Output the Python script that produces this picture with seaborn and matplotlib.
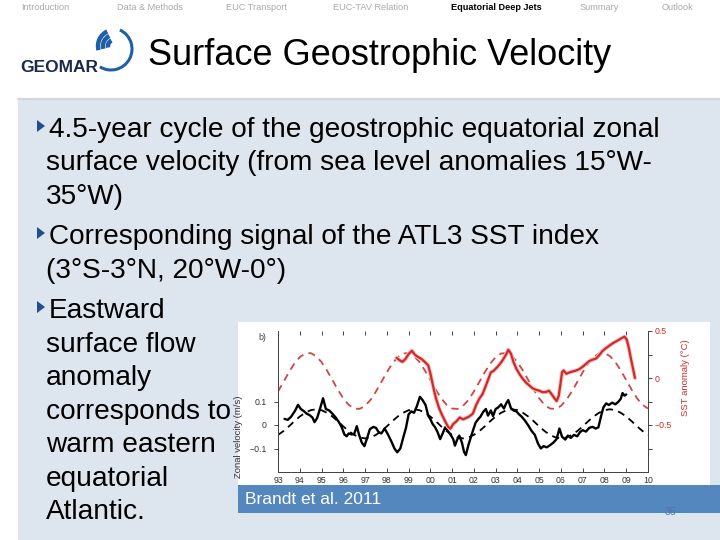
import matplotlib
matplotlib.use("Agg")
import matplotlib.pyplot as plt
from matplotlib.patches import Rectangle, Arc, Polygon
import numpy as np
import seaborn as sns

# --- data (Brandt et al. 2011) ---
fit_years = np.arange(1993.0, 2010.01, 0.25)

# fitted 4.5-year cycle, SST anomaly (degC), red dashed
sst_fit = [-0.144, -0.042, 0.061, 0.153, 0.222, 0.261, 0.265, 0.233, 0.169, 0.080,
           -0.022, -0.125, -0.217, -0.286, -0.325, -0.329, -0.297, -0.233,
           -0.144, -0.042, 0.061, 0.153, 0.222, 0.261, 0.265, 0.233, 0.169, 0.080,
           -0.022, -0.125, -0.217, -0.286, -0.325, -0.329, -0.297, -0.233,
           -0.144, -0.042, 0.061, 0.153, 0.222, 0.261, 0.265, 0.233, 0.169, 0.080,
           -0.022, -0.125, -0.217, -0.286, -0.325, -0.329, -0.297, -0.233,
           -0.144, -0.042, 0.061, 0.153, 0.222, 0.261, 0.265, 0.233, 0.169, 0.080,
           -0.022, -0.125, -0.217, -0.286, -0.325]

# fitted 4.5-year cycle, zonal velocity (m/s), black dashed
vel_fit = [-0.042, -0.026, -0.006, 0.016, 0.036, 0.052, 0.063, 0.067, 0.063, 0.052,
           0.036, 0.016, -0.006, -0.026, -0.042, -0.053, -0.057, -0.053,
           -0.042, -0.026, -0.006, 0.016, 0.036, 0.052, 0.063, 0.067, 0.063, 0.052,
           0.036, 0.016, -0.006, -0.026, -0.042, -0.053, -0.057, -0.053,
           -0.042, -0.026, -0.006, 0.016, 0.036, 0.052, 0.063, 0.067, 0.063, 0.052,
           0.036, 0.016, -0.006, -0.026, -0.042, -0.053, -0.057, -0.053,
           -0.042, -0.026, -0.006, 0.016, 0.036, 0.052, 0.063, 0.067, 0.063, 0.052,
           0.036, 0.016, -0.006, -0.026, -0.042]

# observed zonal surface velocity (black solid)
vel_years = [1993.30, 1993.45, 1993.60, 1993.78, 1993.92, 1994.05, 1994.20, 1994.32, 1994.45, 1994.58,
             1994.68, 1994.80, 1994.95, 1995.07, 1995.20, 1995.35, 1995.50, 1995.65, 1995.80, 1995.92,
             1996.05, 1996.15, 1996.25, 1996.38, 1996.50, 1996.62, 1996.72, 1996.85, 1996.97, 1997.08,
             1997.22, 1997.38, 1997.50, 1997.62, 1997.75, 1997.90, 1998.05, 1998.20, 1998.35, 1998.48,
             1998.62, 1998.75, 1998.88, 1999.00, 1999.12, 1999.25, 1999.38, 1999.52, 1999.65, 1999.78,
             1999.90, 2000.00, 2000.10, 2000.22, 2000.33, 2000.45, 2000.57, 2000.68, 2000.80, 2000.92,
             2001.05, 2001.13, 2001.22, 2001.33, 2001.45, 2001.55, 2001.63, 2001.75, 2001.85, 2001.97,
             2002.08, 2002.20, 2002.30, 2002.42, 2002.55, 2002.65, 2002.78, 2002.88, 2003.00, 2003.12,
             2003.25, 2003.38, 2003.50, 2003.58, 2003.70, 2003.82, 2003.95, 2004.08, 2004.20, 2004.35,
             2004.50, 2004.65, 2004.80, 2004.95, 2005.08, 2005.20, 2005.35, 2005.50, 2005.65, 2005.80,
             2005.93, 2006.05, 2006.20, 2006.32, 2006.45, 2006.60, 2006.75, 2006.88, 2007.00, 2007.15,
             2007.30, 2007.45, 2007.60, 2007.72, 2007.85, 2007.95, 2008.08, 2008.20, 2008.35, 2008.50,
             2008.65, 2008.75, 2008.83, 2008.92, 2009.00]
vel_obs = [0.026, 0.022, 0.035, 0.060, 0.086, 0.068, 0.058, 0.048, 0.042, 0.032,
           0.012, 0.030, 0.075, 0.114, 0.068, 0.062, 0.048, 0.032, 0.012, -0.008,
           -0.040, -0.048, -0.036, -0.040, -0.038, -0.005, -0.040, -0.075, -0.090, -0.060,
           -0.018, -0.008, -0.012, -0.030, -0.036, -0.015, -0.040, -0.068, -0.100, -0.116,
           -0.100, -0.055, -0.012, 0.045, 0.058, 0.052, 0.080, 0.120, 0.105, 0.085,
           0.040, 0.025, 0.005, -0.010, -0.030, -0.060, -0.035, -0.010, -0.025, -0.040,
           -0.060, -0.088, -0.065, -0.045, -0.075, -0.115, -0.128, -0.085, -0.055, -0.020,
           0.010, 0.025, 0.035, 0.055, 0.068, 0.040, 0.062, 0.038, 0.068, 0.075,
           0.088, 0.070, 0.095, 0.106, 0.072, 0.062, 0.058, 0.045, 0.035, 0.018,
           -0.002, -0.025, -0.042, -0.080, -0.100, -0.090, -0.095, -0.086, -0.075, -0.060,
           -0.015, -0.050, -0.062, -0.045, -0.055, -0.042, -0.048, -0.030, -0.022, -0.028,
           -0.012, -0.008, -0.015, -0.010, 0.040, 0.075, 0.092, 0.085, 0.095, 0.088,
           0.100, 0.112, 0.136, 0.125, 0.130]

# observed ATL3 SST anomaly (red solid)
sst_years = [1998.45, 1998.58, 1998.72, 1998.85, 1999.00, 1999.15, 1999.28, 1999.42, 1999.58, 1999.75,
             1999.90, 2000.00, 2000.12, 2000.25, 2000.40, 2000.55, 2000.70, 2000.82, 2000.92, 2001.05,
             2001.20, 2001.35, 2001.50, 2001.65, 2001.78, 2001.95, 2002.10, 2002.25, 2002.40, 2002.52,
             2002.65, 2002.78, 2002.90, 2003.05, 2003.20, 2003.35, 2003.48, 2003.58, 2003.70, 2003.82,
             2003.95, 2004.10, 2004.25, 2004.40, 2004.55, 2004.70, 2004.85, 2005.00, 2005.15, 2005.30,
             2005.45, 2005.58, 2005.70, 2005.80, 2005.90, 2005.98, 2006.05, 2006.12, 2006.25, 2006.40,
             2006.55, 2006.70, 2006.85, 2007.00, 2007.15, 2007.30, 2007.45, 2007.60, 2007.75, 2007.90,
             2008.05, 2008.20, 2008.35, 2008.50, 2008.65, 2008.80, 2008.92, 2009.02, 2009.12, 2009.22,
             2009.32, 2009.40]
sst_obs = [0.215, 0.190, 0.172, 0.200, 0.255, 0.290, 0.250, 0.225, 0.205, 0.170,
           0.135, 0.050, -0.080, -0.210, -0.320, -0.400, -0.470, -0.520, -0.540, -0.490,
           -0.460, -0.420, -0.440, -0.425, -0.410, -0.380, -0.290, -0.220, -0.170, -0.100,
           -0.020, 0.060, 0.075, 0.110, 0.150, 0.200, 0.250, 0.300, 0.260, 0.170,
           0.100, 0.040, -0.010, -0.050, -0.080, -0.110, -0.125, -0.135, -0.150, -0.150,
           -0.135, -0.175, -0.215, -0.245, -0.190, -0.060, 0.060, 0.080, 0.045, 0.060,
           0.070, 0.080, 0.095, 0.120, 0.150, 0.180, 0.195, 0.205, 0.240, 0.285,
           0.315, 0.340, 0.365, 0.385, 0.405, 0.425, 0.440, 0.410, 0.320, 0.200,
           0.090, 0.000]

year_ticks = list(range(1993, 2011))
year_labels = [f"{y % 100:02d}" for y in year_ticks]

nav_items = ["Introduction", "Data & Methods", "EUC Transport", "EUC-TAV Relation",
             "Equatorial Deep Jets", "Summary", "Outlook"]
nav_x = [45, 150, 257, 371, 496, 599, 677]

bullet_lines = [
    (49, 137, "4.5-year cycle of the geostrophic equatorial zonal", True),
    (46, 170, "surface velocity (from sea level anomalies 15°W-", False),
    (46, 204, "35°W)", False),
    (49, 244, "Corresponding signal of the ATL3 SST index", True),
    (46, 278, "(3°S-3°N, 20°W-0°)", False),
    (49, 318, "Eastward", True),
    (46, 352, "surface flow", False),
    (46, 385, "anomaly", False),
    (46, 419, "corresponds to", False),
    (46, 452, "warm eastern", False),
    (46, 486, "equatorial", False),
    (46, 519, "Atlantic.", False),
]

RED = "#cf2a2a"
RED_DASH = "#d04545"
NAVY = "#1f4f8f"

sns.set_style("ticks")
plt.rcParams['font.family'] = ['Liberation Sans', 'DejaVu Sans']

fig = plt.figure(figsize=(7.2, 5.4), dpi=100)

# slide background drawn in pixel coordinates
bg = fig.add_axes([0, 0, 1, 1])
bg.set_xlim(0, 720)
bg.set_ylim(540, 0)
bg.axis('off')

bg.add_patch(Rectangle((18, 98), 702, 442, fc="#dde5ee", ec="none"))
bg.plot([18, 720], [98.5, 98.5], color="#cdd6e1", lw=1.5)
bg.add_patch(Rectangle((238, 322), 472, 163, fc="white", ec="none"))
bg.add_patch(Rectangle((238, 485), 482, 28, fc="#5587bf", ec="none"))

# nav bar
for name, x in zip(nav_items, nav_x):
    active = name == "Equatorial Deep Jets"
    bg.text(x, 8, name, ha='center', va='center', fontsize=6.6,
            color="black" if active else "#a9a9a9",
            fontweight='bold' if active else 'normal')

# GEOMAR logo
bg.text(20, 72, "GEOMAR", fontsize=12.5, fontweight='bold', color="#1b2a4a",
        ha='left', va='baseline')
bg.add_patch(Arc((111, 49), 42, 42, theta1=-65, theta2=122, color="#1f5fa8", lw=2.2))
for r in [6, 11, 16]:
    bg.add_patch(Arc((114, 46), 2 * r, 2 * r, theta1=165, theta2=245,
                     color="#1f5fa8", lw=3.2))

bg.text(148, 65, "Surface Geostrophic Velocity", fontsize=26, color="black",
        ha='left', va='baseline')

for x, y, txt, bullet in bullet_lines:
    bg.text(x, y, txt, fontsize=20.2, color="black", ha='left', va='baseline')
    if bullet:
        cy = y - 11
        bg.add_patch(Polygon([(37, cy - 6), (37, cy + 6), (45, cy)], closed=True,
                             fc=NAVY, ec="none"))

bg.text(245, 500, "Brandt et al. 2011", fontsize=12.5, color="white",
        ha='left', va='center')
bg.text(670, 512, "36", fontsize=7.5, color="#4f73a6", ha='center', va='center')

# chart
ax = fig.add_axes([278 / 720, 1 - 472 / 540, 370 / 720, 141 / 540])
ax.set_facecolor('none')
ax2 = ax.twinx()

sns.lineplot(x=fit_years, y=vel_fit, ax=ax, color="black", lw=1.3,
             linestyle=(0, (4, 3)), estimator=None)
sns.lineplot(x=vel_years, y=vel_obs, ax=ax, color="black", lw=1.7, estimator=None)

sns.lineplot(x=fit_years, y=sst_fit, ax=ax2, color=RED_DASH, lw=1.3,
             linestyle=(0, (4, 3)), estimator=None)
sns.lineplot(x=sst_years, y=sst_obs, ax=ax2, color="#f4c4c4", lw=3.0, estimator=None)
sns.lineplot(x=sst_years, y=sst_obs, ax=ax2, color=RED, lw=1.6, estimator=None)

ax.set_xlim(1993, 2010)
ax.set_ylim(-0.2, 0.4)
ax.set_xticks(year_ticks)
ax.set_xticklabels(year_labels)
ax.set_yticks([-0.1, 0, 0.1])
ax.set_yticklabels(["\u22120.1", "0", "0.1"])
ax.tick_params(axis='x', direction='in', top=True, length=3, width=0.6,
               labelsize=6.3, labelcolor="#333333", pad=3)
ax.tick_params(axis='y', direction='out', length=3, width=0.6,
               labelsize=6.3, labelcolor="#333333", pad=5)
ax.set_ylabel("Zonal velocity (m/s)", fontsize=6.8, color="#333333")
ax.yaxis.set_label_coords(-0.095, 0.25)
ax.set_xlabel("")

ax2.set_ylim(-1.0, 0.5)
ax2.set_yticks([-0.75, -0.5, -0.25, 0, 0.25, 0.5])
ax2.set_yticklabels(["", "\u22120.5", "", "0", "", "0.5"])
ax2.tick_params(axis='y', direction='out', length=3, width=0.6,
                labelsize=6.3, labelcolor=RED, pad=1.5)
ax2.set_ylabel("SST anomaly (°C)", fontsize=6.8, color=RED)
ax2.yaxis.set_label_coords(1.09, 0.667)

for a in (ax, ax2):
    a.spines['top'].set_visible(False)
    for s in ('left', 'right', 'bottom'):
        a.spines[s].set_linewidth(0.7)
        a.spines[s].set_color("#444444")

bg.text(262, 338, "b)", fontsize=6.3, color="#444444", ha='center', va='center')

fig.savefig("out.png", dpi=100)
